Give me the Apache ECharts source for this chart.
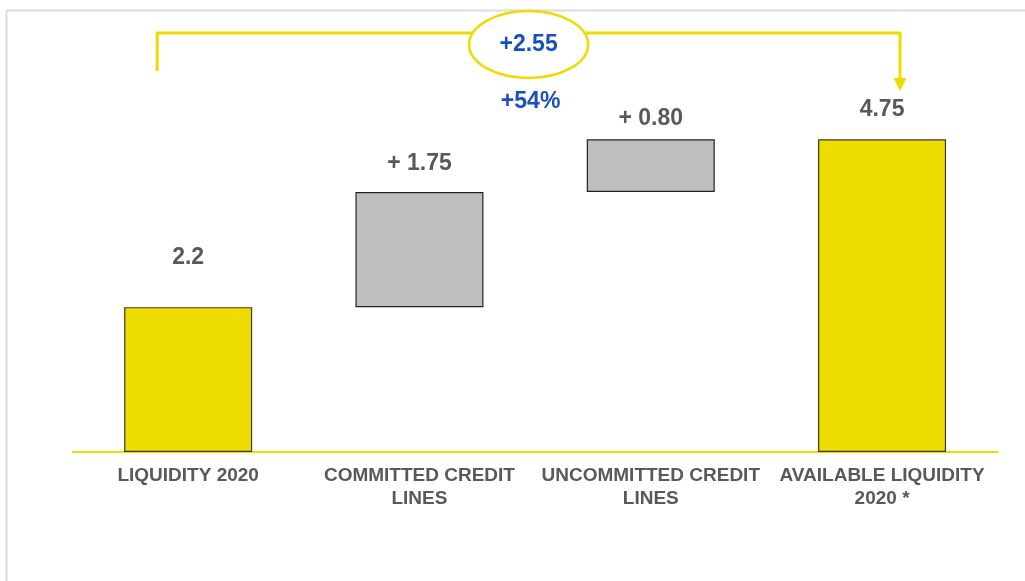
<!DOCTYPE html>
<html>
<head>
<meta charset="utf-8">
<style>
  html, body { margin: 0; padding: 0; background: #ffffff; }
  #chart { width: 1025px; height: 581px; }
</style>
<script src="https://cdn.jsdelivr.net/npm/echarts@6/dist/echarts.min.js"></script>
</head>
<body>
<div id="chart"></div>
<script>
// Liquidity bridge (waterfall), in billions
const categories = ['LIQUIDITY 2020', 'COMMITTED CREDIT\nLINES', 'UNCOMMITTED CREDIT\nLINES', 'AVAILABLE LIQUIDITY\n2020 *'];
const values = [2.2, 1.75, 0.80, 4.75];
const barKinds = ['total', 'step', 'step', 'total'];

const YELLOW = '#EEDC00';
const GREY = '#BFBFBF';
const TEXT = '#595959';
const BLUE = '#1B4FC1';
const FONT = '"Liberation Sans", Arial, sans-serif';

// invisible base so each step floats on the running total
const bases = [];
let running = 0;
values.forEach((v, i) => {
  if (barKinds[i] === 'total') { bases.push(0); running = v; }
  else { bases.push(running); running += v; }
});

const labelText = values.map((v, i) =>
  barKinds[i] === 'total' ? String(v) : '+ ' + v.toFixed(2));
const labelGap = [38, 17, 9, 18];

const delta = values[values.length - 1] - values[0];
const deltaPct = Math.round(delta / values[values.length - 1] * 100);

const chart = echarts.init(document.getElementById('chart'), null, { renderer: 'canvas' });

chart.setOption({
  animation: false,
  backgroundColor: '#ffffff',
  grid: { left: 72.5, right: 27.3, top: 57, bottom: 129, containLabel: false },
  xAxis: {
    type: 'category',
    data: categories,
    axisLine: { show: true, lineStyle: { color: YELLOW, width: 2 } },
    axisTick: { show: false },
    axisLabel: {
      interval: 0, margin: 12, color: TEXT, fontFamily: FONT,
      fontWeight: 'bold', fontSize: 19, lineHeight: 23
    }
  },
  yAxis: {
    type: 'value', min: 0, max: 6, show: false,
    splitLine: { show: false }
  },
  series: [
    {
      type: 'bar', stack: 'w', barWidth: 128, silent: true,
      itemStyle: { color: 'transparent', borderWidth: 0 },
      data: bases
    },
    {
      type: 'bar', stack: 'w', barWidth: 128,
      data: values.map((v, i) => ({
        value: v,
        itemStyle: {
          color: barKinds[i] === 'total' ? YELLOW : GREY,
          borderColor: barKinds[i] === 'total' ? '#3a3a2a' : '#222222',
          borderWidth: 1.2
        },
        label: {
          show: true, position: 'top', distance: labelGap[i],
          formatter: labelText[i], color: TEXT, fontFamily: FONT,
          fontWeight: 'bold', fontSize: 23
        }
      }))
    }
  ]
});

// bracket with delta callout above the bars
function drawAnnotations() {
  const x0 = chart.convertToPixel({ xAxisIndex: 0 }, categories[0]);
  const x3 = chart.convertToPixel({ xAxisIndex: 0 }, categories[3]);
  const left = x0 - 31;
  const right = x3 + 18;
  const mid = (left + right) / 2;
  const top = 33;
  chart.setOption({
    graphic: [
      { type: 'line', shape: { x1: 6.5, y1: 10.5, x2: 1025, y2: 10.5 }, style: { stroke: '#dcdcdc', lineWidth: 2 } },
      { type: 'line', shape: { x1: 6.5, y1: 10.5, x2: 6.5, y2: 581 }, style: { stroke: '#dcdcdc', lineWidth: 2 } },
      {
        type: 'polyline',
        shape: { points: [[left, 71], [left, top], [right, top], [right, 79]] },
        style: { stroke: YELLOW, lineWidth: 3, fill: null }
      },
      {
        type: 'polygon',
        shape: { points: [[right - 6.5, 78], [right + 6.5, 78], [right, 91]] },
        style: { fill: YELLOW }
      },
      {
        type: 'ellipse',
        shape: { cx: mid, cy: 44.5, rx: 59.5, ry: 33.5 },
        style: { fill: '#ffffff', stroke: YELLOW, lineWidth: 2.5 }
      },
      {
        type: 'text', x: mid, y: 45,
        style: {
          text: '+' + delta.toFixed(2), fill: BLUE, font: 'bold 23px ' + FONT,
          align: 'center', verticalAlign: 'middle'
        }
      },
      {
        type: 'text', x: mid + 2, y: 102,
        style: {
          text: '+' + deltaPct + '%', fill: BLUE, font: 'bold 23px ' + FONT,
          align: 'center', verticalAlign: 'middle'
        }
      }
    ]
  });
}
drawAnnotations();
</script>
</body>
</html>
